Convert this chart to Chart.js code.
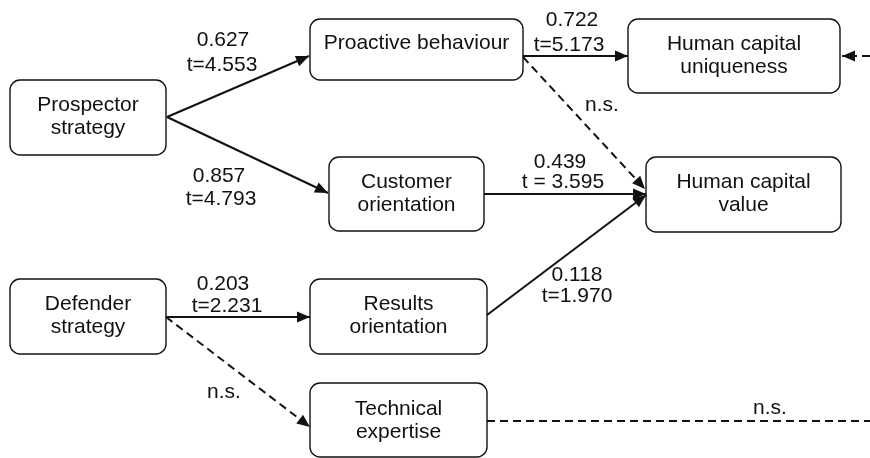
<!DOCTYPE html>
<html>
<head>
<meta charset="utf-8">
<script src="https://cdn.jsdelivr.net/npm/chart.js@4.4.0/dist/chart.umd.min.js"></script>
<style>
  html, body { margin: 0; padding: 0; background: #fff; }
  #wrap { width: 870px; height: 458px; }
</style>
</head>
<body>
<div id="wrap"><canvas id="pathChart"></canvas></div>
<script>
// constructs of the model (one entry per box, lines of text)
const nodeNames = [
  ['Prospector', 'strategy'],
  ['Proactive behaviour'],
  ['Customer', 'orientation'],
  ['Human capital', 'uniqueness'],
  ['Human capital', 'value'],
  ['Defender', 'strategy'],
  ['Results', 'orientation'],
  ['Technical', 'expertise']
];

// paths: coefficient, t value, significance (n.s. = dashed)
const coefs   = ['0.627', '0.857', '0.722', 'n.s.', '0.439', '0.118', '0.203', 'n.s.', 'n.s.', null];
const tValues = ['t=4.553', 't=4.793', 't=5.173', null, 't = 3.595', 't=1.970', 't=2.231', null, null, null];
const significant = [true, true, true, false, true, true, true, false, false, false];
const hasArrow    = [true, true, true, true, true, true, true, true, false, true];

// layout of the boxes in diagram units
const boxLeft   = [10, 310, 329, 628, 646, 10, 310, 310];
const boxRight  = [166, 523, 484, 840, 841, 166, 487, 487];
const boxTop    = [80, 19, 157, 19, 157, 279, 279, 383];
const boxBottom = [155, 80, 231, 93, 232, 354, 354, 457];
const textMidY  = [117, 43, 194, 56, 194, 316, 316, 421];

// where each path leaves / enters
const pathStart = [[167, 117], [167, 117], [523, 56], [523, 57], [484, 194], [487, 315], [166, 317], [166, 317], [487, 421], [870, 56]];
const pathEnd   = [[309, 56], [328, 193], [628, 56], [645, 189], [646, 194], [646, 195], [310, 317], [310, 427], [870, 421], [842, 56]];

// label anchors
const coefX = [223, 219, 572, 602, 560, 577, 223, 224, 770, null];
const coefY = [40, 176, 20, 105, 162, 275, 284, 392, 408, null];
const tX    = [222, 221, 569, null, 563, 577, 227, null, null, null];
const tY    = [65, 199, 45, null, 182, 296, 306, null, null, null];

const FONT = '21px "Liberation Sans", Arial, sans-serif';
const INK = '#111';

const datasets = pathStart.map((s, i) => ({
  data: [{ x: s[0], y: s[1] }, { x: pathEnd[i][0], y: pathEnd[i][1] }],
  showLine: true,
  borderColor: INK,
  borderWidth: 2,
  borderDash: significant[i] ? [] : [8, 5],
  pointRadius: 0,
  pointHoverRadius: 0,
  fill: false
}));

function roundRect(ctx, x0, y0, x1, y1, r) {
  ctx.beginPath();
  ctx.moveTo(x0 + r, y0);
  ctx.lineTo(x1 - r, y0);
  ctx.arcTo(x1, y0, x1, y0 + r, r);
  ctx.lineTo(x1, y1 - r);
  ctx.arcTo(x1, y1, x1 - r, y1, r);
  ctx.lineTo(x0 + r, y1);
  ctx.arcTo(x0, y1, x0, y1 - r, r);
  ctx.lineTo(x0, y0 + r);
  ctx.arcTo(x0, y0, x0 + r, y0, r);
  ctx.closePath();
}

const diagramPlugin = {
  id: 'diagram',
  beforeDatasetsDraw(chart) {
    const { ctx, scales: { x, y } } = chart;
    ctx.save();
    ctx.strokeStyle = INK;
    ctx.lineWidth = 1.4;
    nodeNames.forEach((lines, i) => {
      roundRect(ctx, x.getPixelForValue(boxLeft[i]), y.getPixelForValue(boxTop[i]),
        x.getPixelForValue(boxRight[i]), y.getPixelForValue(boxBottom[i]), 10);
      ctx.stroke();
    });
    ctx.restore();
  },
  afterDatasetsDraw(chart) {
    const { ctx, scales: { x, y } } = chart;
    ctx.save();
    // arrow heads
    ctx.fillStyle = INK;
    chart.data.datasets.forEach((ds, i) => {
      if (!hasArrow[i]) return;
      const pts = chart.getDatasetMeta(i).data;
      const a = pts[0], b = pts[1];
      const ang = Math.atan2(b.y - a.y, b.x - a.x);
      const len = 13, half = 5.5;
      ctx.beginPath();
      ctx.moveTo(b.x, b.y);
      ctx.lineTo(b.x - len * Math.cos(ang) + half * Math.sin(ang), b.y - len * Math.sin(ang) - half * Math.cos(ang));
      ctx.lineTo(b.x - len * Math.cos(ang) - half * Math.sin(ang), b.y - len * Math.sin(ang) + half * Math.cos(ang));
      ctx.closePath();
      ctx.fill();
    });
    // texts
    ctx.font = FONT;
    ctx.textAlign = 'center';
    ctx.textBaseline = 'middle';
    nodeNames.forEach((lines, i) => {
      const cx = x.getPixelForValue((boxLeft[i] + boxRight[i]) / 2);
      const top = textMidY[i] - (lines.length - 1) * 23 / 2;
      lines.forEach((t, k) => ctx.fillText(t, cx, y.getPixelForValue(top + k * 23)));
    });
    coefs.forEach((c, i) => {
      if (c) ctx.fillText(c, x.getPixelForValue(coefX[i]), y.getPixelForValue(coefY[i]));
      if (tValues[i]) ctx.fillText(tValues[i], x.getPixelForValue(tX[i]), y.getPixelForValue(tY[i]));
    });
    ctx.restore();
  }
};

new Chart(document.getElementById('pathChart'), {
  type: 'scatter',
  data: { datasets: datasets },
  options: {
    responsive: true,
    maintainAspectRatio: false,
    animation: false,
    events: [],
    layout: { padding: 0 },
    plugins: { legend: { display: false }, tooltip: { enabled: false } },
    scales: {
      x: { type: 'linear', min: 0, max: 870, display: false },
      y: { type: 'linear', min: 0, max: 458, reverse: true, display: false }
    }
  },
  plugins: [diagramPlugin]
});
</script>
</body>
</html>
